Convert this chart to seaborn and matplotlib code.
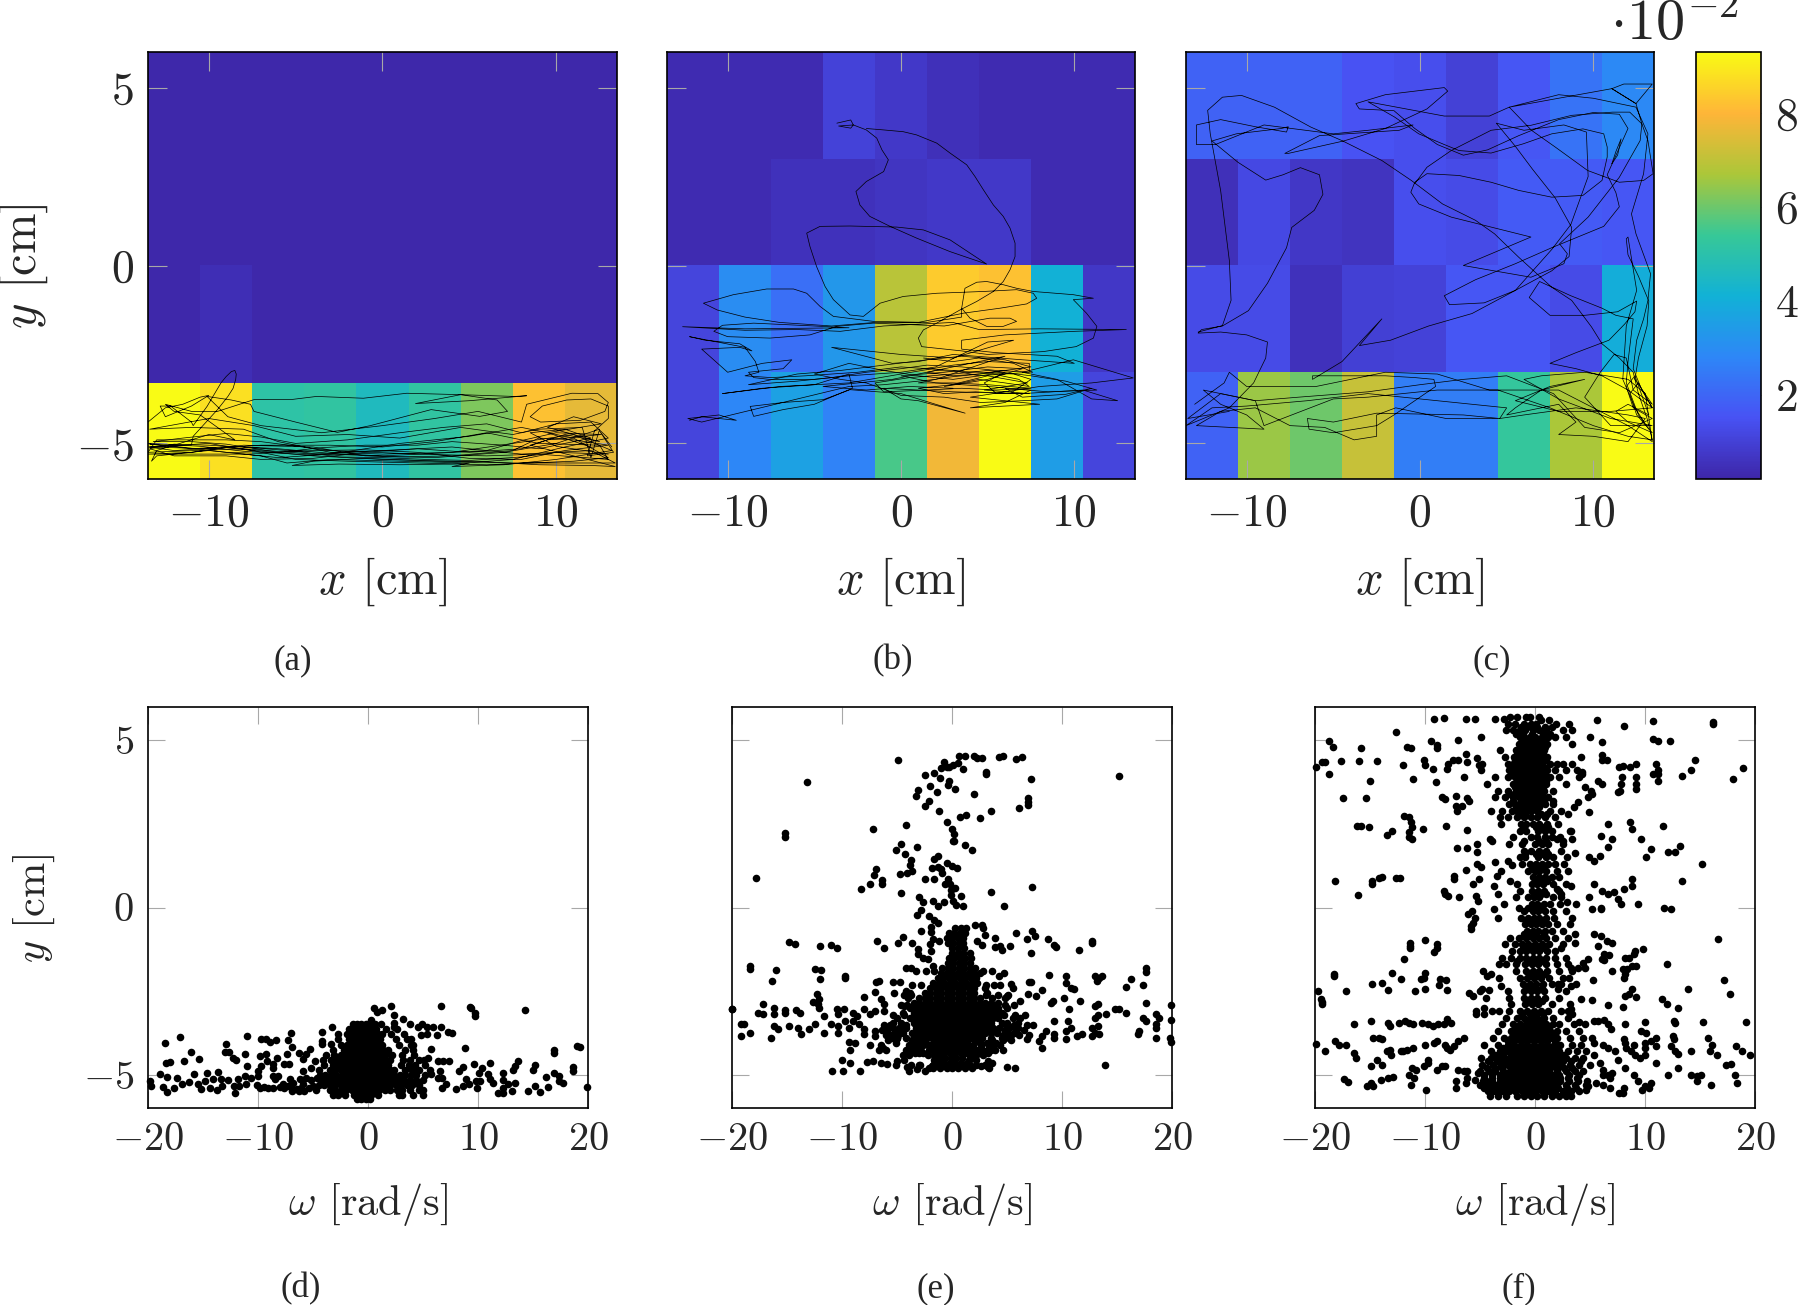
import numpy as np
import pandas as pd
import matplotlib
matplotlib.use("Agg")
import matplotlib.pyplot as plt
from matplotlib.colors import LinearSegmentedColormap
import seaborn as sns

sns.set_style("white")
plt.rcParams["font.family"] = ["cmr10", "DejaVu Sans"]
plt.rcParams["mathtext.fontset"] = "cm"
plt.rcParams["axes.unicode_minus"] = False
plt.rcParams["axes.formatter.use_mathtext"] = True

# colour values x 10^-2, rows from top to bottom
cells_a = [[0.25] * 9,
           [0.25, 0.42, 0.25, 0.25, 0.25, 0.25, 0.25, 0.25, 0.25],
           [9.3, 8.8, 5.1, 5.2, 4.6, 5.2, 6.2, 8.2, 7.6]]
row_repeat_a = [20, 11, 9]  # top bins are 6, 3.3, 2.7 cm high
cells_b = [[0.35, 0.35, 0.35, 1.05, 0.75, 0.5, 0.35, 0.35, 0.35],
           [0.35, 0.35, 0.55, 0.55, 0.65, 0.75, 0.75, 0.35, 0.35],
           [1.1, 3.0, 2.2, 3.3, 6.9, 8.4, 8.2, 4.1, 0.7],
           [1.1, 2.8, 3.6, 2.7, 5.6, 7.8, 9.3, 3.5, 1.1]]
cells_c = [[1.9, 1.9, 1.9, 1.5, 1.4, 1.0, 1.6, 2.3, 2.9],
           [0.5, 1.2, 0.7, 0.6, 1.4, 1.3, 1.7, 1.7, 1.6],
           [1.3, 1.3, 0.55, 0.95, 1.05, 1.6, 1.6, 1.3, 4.0],
           [1.9, 6.5, 6.0, 7.1, 2.6, 2.6, 5.3, 6.7, 9.3]]
cbar_ticks = [2, 4, 6, 8]

xticks_top = [-10, 0, 10]
xticks_bot = [-20, -10, 0, 10, 20]
yticks = [-5, 0, 5]

traj_a = [(-13.5,-4.4),(-12.5,-4.0),(-11.5,-3.9),(-10.5,-3.7),(-10,-3.65),(-11,-3.95),(-12.5,-4.25),(-12.8,-3.95),(-12.2,-3.95),(-11,-4.4),
 (-10.9,-4.5),(-10.1,-3.96),(-9.6,-3.55),(-9.3,-3.3),(-9,-3.12),(-8.7,-2.98),(-8.5,-2.95),(-8.42,-3.05),(-8.45,-3.2),(-8.6,-3.45),(-8.9,-3.68),(-9.5,-4.05),(-10.9,-4.8),
 (-11,-5.05),(-13.5,-5.1),(-12,-5.2),(-9,-5.12),(-7.4,-5.2),(-4,-5.35),(0,-5.45),(4,-5.5),(7.5,-5.55),(13.4,-5.55),
 (12,-5.2),(8,-5.3),(4,-5.1),(0,-5.2),(-4,-5.3),(-8,-5.15),(-13.5,-5.25),(-13,-4.9),(-9,-4.9),(-7,-4.95),(-3,-5.2),(2,-5.3),(6,-5.35),(9,-5.3),
 (13,-5.45),(12.5,-5.05),(9,-5),(6,-4.7),(3,-4.95),(0,-5.1),(-3,-5.05),(-7,-5.05),(-10,-5.15),(-13.4,-5.1),
 (-10,-5),(-7.5,-5.2),(-5,-5.45),(-2,-5.5),(2,-5.55),(6,-5.6),(11,-5.5),(13,-5.4),
 (11,-4.85),(8,-4.55),(5,-4.8),(1,-5.0),(-3,-5.3),(-6,-5.4),(-8,-5.3),(-13.5,-5.3),(-11,-5.25),(-8,-5.05),(-4,-5.1),(-1,-5.35),(3,-5.4),(7,-5.25),
 (10,-5.0),(12.5,-4.6),(12,-5.4),(11.5,-4.55),(9,-4.6),(7.5,-4.75),(4.5,-4.55),(1,-4.85),(-2,-4.75),(-5,-4.8),(-7.4,-4.5),(-10,-4.3),(-13.4,-4.6),
 (-11,-4.55),(-8,-4.6),(-6,-4.95),(-3,-5.25),(0,-5.3),(4,-5.25),(7.5,-5.0),(11,-4.75),(13.2,-5.2),(10,-5.45),(7,-5.6),(4,-5.65),(5,-5.55),(1,-5.5),
 (-3,-5.45),(-5.5,-5.55),(-7,-5.35),(-10,-5.2),(-13,-5.35),(-13.3,-5.5),(-13,-5.2),(-10,-4.75),(-8.5,-4.9),(-10.5,-4.2),(-12,-4.1),(-12.5,-3.9),
 (-11,-4.1),(-9.5,-4.1),(-7.4,-3.77),(-5.3,-3.77),(-3.8,-3.68),(-1.1,-3.73),(1.4,-3.59),(4.5,-3.63),(7.6,-3.68),(8.3,-3.66),(5,-3.8),(1.9,-3.88),
 (4.5,-3.63),(6.6,-3.78),(7.2,-4.1),(5.6,-4.24),(2.8,-4.05),(-0.7,-4.5),(-2.6,-4.69),(-5,-4.4),(-7.4,-4.1),(-7.6,-3.9),(-8.7,-3.78),(-10.1,-3.68),
 (-8.9,-4.25),(-7,-4.5),(-3.5,-4.7),(0,-4.5),(3,-4.3),(5.5,-4.1),(8,-4.4),(8.3,-3.9),(10.9,-3.59),(12.4,-3.6),(13,-3.85),(12.8,-4.1),(11.4,-4.35),
 (9.1,-4.4),(8.5,-4.25),(9.2,-3.95),(10.6,-3.78),(12,-3.75),(13,-3.95),(13,-4.3),(12.2,-4.65),(11.8,-5.35),(13.3,-5.25),(12.5,-4.65),(13.2,-5.1)]
traj_a_bundle = [(-13.5,-5.0),(-10.5,-5.08),(-8,-5.22),(-5,-5.3),(-2,-5.32),(1,-5.38),(4,-5.35),(7.5,-5.2),(9,-4.85),(11,-4.9),(13,-5.05),(10.5,-5.2),(8,-5.45),(5,-5.42),(2,-5.25),(-1,-5.18),(-4,-5.2),(-7,-5.28),(-9,-5.25),(-12,-5.08),
 (-13.4,-5.02),(-11,-5.15),(-8.5,-5.08),(-6,-5.15),(-3,-5.28),(0,-5.35),(3,-5.28),(6,-5.2),(8,-4.92),(10,-4.7),(12.6,-4.75),(9.5,-4.9),(8,-5.15),(5,-5.25),(2,-5.15),(-1,-5.25),(-4,-5.42),(-7,-5.45),(-9,-5.35),(-12,-5.35),
 (-13.4,-5.15),(-12,-5.02),(-10,-5.05),(-7.5,-5.12),(-5,-5.22),(-2.5,-5.38),(0,-5.4),(2.5,-5.45),(5,-5.48),(8,-5.38),(10,-5.25),(13,-5.3),(10,-5.08),(8.5,-4.7),(10.5,-4.6),(12,-4.85),(9,-5.15),(7,-5.05),(4,-4.95),(2,-5.05),
 (-1,-5.05),(-3.5,-5.12),(-6,-5.25),(-9,-5.02),(-11,-4.95),(-13.2,-4.95),(-11.5,-4.85),(-9,-4.72),(-7,-4.82),(-5,-5),(-2,-4.9),(1,-4.7),(3.5,-4.55),(6,-4.45),(8,-4.7),(10,-4.45),(12,-4.4),(13,-4.85),(10.5,-5.1),(7.5,-5.45),
 (4,-5.58),(1,-5.6),(-2.5,-5.58),(-5.2,-5.62),(-4,-5.5),(-1,-5.42),(3,-5.5),(6,-5.52),(9,-5.6),(12,-5.62),(13.4,-5.65),(11,-5.35),(8.5,-5.05),(10.5,-4.75),(12.5,-4.95),(9.5,-4.55),(11,-4.25),(12.6,-4.45),(9.5,-4.7),(12,-5.1)]

traj_b = [(-3.7,4.0),(-2.9,4.09),(-2.75,3.95),(-2.9,3.86),(-3.6,3.92),(-2.75,3.95),(-2.0,3.81),(-1.4,3.58),(-1.1,3.25),(-0.73,2.97),(-1.0,2.64),(-2.0,2.36),
 (-2.6,2.08),(-2.37,1.7),(-1.8,1.38),(-0.63,1.1),(0.9,0.77),(2.83,0.39),(4.94,0.04),(2.83,0.72),(1.29,1.0),(-0.25,1.08),(-2.94,1.11),(-4.67,1.1),(-5.44,0.91),
 (-5.25,0.53),(-4.87,-0.03),(-4.38,-0.59),(-3.9,-0.96),(-2.94,-1.39),(-2.17,-1.43),(-1.21,-1.06),(0.13,-0.87),(2.06,-0.78),(4.75,-0.73),(6.67,-0.68),(7.63,-0.78),
 (7.83,-0.92),(7.25,-1.08),(5.71,-1.2),(3.6,-1.34),(1,-1.6),(-1.5,-1.6),(-4,-1.7),(-7,-1.6),(-9,-1.45),(-10.6,-1.25),(-11.4,-1.06),(-9.67,-0.82),(-7.75,-0.66),(-6.2,-0.66),(-5.44,-0.78),(-4.67,-1.15),(-3.9,-1.43),(-1.6,-1.57),
 (1.5,-1.6),(3.5,-1.45),(3.5,-1.2),(3.69,-0.64),(4.37,-0.47),(4.94,-0.45),(5.9,-0.54),(6.67,-0.64),(7.63,-0.73),(9.94,-0.82),(11.1,-0.92),(9.94,-0.96),(10.7,-1.34),(11.3,-1.71),(11.1,-2.04),(10.1,-2.28),(8.2,-2.42),(5,-2.5),(3.5,-2.4),
 (1.19,-2.28),(1,-2.04),(1.29,-1.81),(2.06,-1.62),(3.4,-1.25),(4.37,-1.01),(5.33,-0.73),(5.9,-0.45),(6.29,-0.12),(6.58,0.25),(6.58,0.63),(6.29,1.05),(5.9,1.38),(5.33,1.7),(4.75,2.13),(4.27,2.5),(3.79,2.83),(2.83,3.16),(2.06,3.44),(0.9,3.67),(0.13,3.76),(-1,3.81),(-2.0,3.85)]
traj_b_lobes = [(3.5,-1.2),(3.98,-1.48),(4.94,-1.71),(5.9,-1.71),(6.67,-1.57),(6.29,-1.48),(5.13,-1.48),(2.5,-1.7),(-1.6,-1.62),(-3.7,-1.71),(-5.25,-1.95),(-7.56,-2.04),(-10,-2),(-10.8,-1.85),(-10.3,-1.68),(-8.5,-1.62),(-5,-1.7),(-3,-1.75),(-9,-1.78),(-12.6,-1.72),(-9,-1.82),(-6,-1.8),(-3.5,-1.85),(-1,-1.7),(1,-1.65),
 (3,-1.6),(4.5,-1.8),(8,-1.78),(13,-1.8),(10,-1.85),(6,-1.95),(3.5,-2.1),(3.5,-2.35),(5.5,-2.45),(9,-2.55),(10,-2.75),(7,-2.65),(3,-2.5),(1,-2.7),(-0.5,-2.75),(-4,-2.3),(0,-2.5),(3,-2.6),(6.5,-2.1),(5,-2.15),(2,-2.85),(0,-3.0),(-3,-3.1),
 (-5,-3.2),(-7.6,-3.2),(-8.5,-3.15),(-8.8,-3.0),(-6.8,-2.9),(-6.3,-2.65),(-8,-2.75),(-10,-3.0),(-11.5,-2.35),(-9.3,-2.3),(-8.6,-2.4),(-9.3,-2.2),(-11.3,-2.1),(-12.2,-2.0),(-9,-2.3),(-8.4,-2.7),(-8.2,-3.0),(-9,-3.1),(-7.5,-3.15),(-5.5,-3.1),(-2.5,-3.0),(0,-2.85),(3,-2.95),(4.5,-3.1),(7.4,-3.0),(7.4,-2.75),(5,-2.7),(3,-2.8),(-3,-3.3),
 (-7,-3.4),(-10.3,-3.6),(-8,-3.45),(-5,-3.35),(-3,-3.05),(-2.8,-3.45),(-5,-3.9),(-6.8,-4.05),(-8.5,-4.24),(-8.7,-3.96),(-6.8,-3.85),(-4.48,-3.77),(-2.94,-3.49),(0,-3.6),(2,-3.9),(3.7,-4.15),(1,-3.8),
 (0,-3.75),(-1,-3.45),(3,-3.55),(7,-3.6),(10.5,-3.5),(12.5,-3.8),(11,-3.75),(9,-3.2),(7,-3.0),(9.94,-2.65),(13.4,-3.16),(11,-3.3),(8,-3.4),(4,-3.7),(8,-3.9),(4,-4.0),
 (6,-3.85),(7.5,-3.5),(5,-3.4),(2,-3.3),(0,-3.1),(2.5,-3.0),(5,-2.85),(7,-2.9),(5,-3.2),(2.5,-3.4),(5,-3.1),(7.3,-3.3),(4.8,-3.5),(7.4,-3.6),(5.5,-3.6),(4.8,-3.3),
 (6,-3.0),(3,-3.1),(1.5,-3.0),(4,-2.75),(6,-2.55),(2,-3.2),(-1,-3.35),(-3,-3.4),(-11.5,-4.4),(-12.3,-4.3),(-10.5,-4.2),(-9.5,-4.35),(-11.5,-4.25),(-12.2,-4.35)]
traj_b_dense = [(1.3,-2.6),(3,-2.7),(4.5,-2.6),(6.5,-2.75),(7.6,-3.0),(5.5,-2.95),(3.5,-2.85),(1.5,-2.8),(0,-2.9),(-2,-3.0),(-4,-3.15),(-6,-3.25),(-8.8,-3.35),(-6,-3.05),(-3.5,-2.95),(-1,-2.8),(1.5,-2.65),(3.5,-2.55),(6,-2.65),(7.5,-2.85),(4.5,-3.05),(2.5,-3.15),(1,-3.3),(3,-3.3),(5,-3.35),(7.5,-3.45),(5.5,-3.5),(3.5,-3.45),(1.5,-3.5),(-1,-3.55),(-1.5,-3.3),(0.5,-3.15),(3,-3.05),(5,-2.95),(7.5,-3.1),(9.5,-3.25),(11.3,-3.5),
 (8.5,-3.55),(6,-3.45),(7,-3.7),(9.5,-3.62),(11,-3.45),(9,-3.75),(7,-3.8),(4.6,-3.85),(2.5,-3.7),(0,-3.65),(-2,-3.3),(-3.5,-3.2),(-5,-3.05),(-3,-2.75),(-1,-2.95),(1,-3.1),(3,-3.2),(5.3,-3.05),(6.8,-3.2),(7.4,-3.4),(6,-3.3),(4.5,-3.2),(3,-3.35),(1,-3.45),(2.5,-3.6),(4.3,-3.55),(6.3,-3.6),(7.5,-3.2),(6.5,-3.05),(4.5,-3.0),(2,-2.95),(-0.5,-3.2),(-4.5,-3.4),(-2,-3.5),(0.5,-3.4),(3,-3.45)]

traj_c = [(-12.8,-1.87),(-11.4,-1.69),(-10.9,-0.98),(-11,0.14),(-11.5,2.1),(-12.1,3.7),(-12.25,4.36),(-11.4,4.73),(-10.3,4.78),(-8.4,4.45),(-6.3,3.89),(-4.5,3.51),
 (-2.2,2.95),(-0.5,2.39),(1.3,1.73),(3.2,1.27),(4.3,0.89),(5.7,0.23),(7.6,-0.61),(8.75,-0.98),(9.9,-1.73),(10.5,-2.2),(11.5,-2.6),(12.3,-3.0),(12.6,-3.6),(13.1,-4.3),
 (13.4,-4.9),(12,-4.8),(10,-4.5),(7.5,-4.0),(4.5,-3.5),(1,-3.5),(-3,-3.7),(-5,-3.75),(-9,-4.5),(-9.5,-3.8),(-12.5,-3.5),(-11.5,-3.9),(-10,-4.2),(-9,-4.6),
 (-12.9,-4.5),(-11.5,-4.1),(-9.5,-4),(-7.5,-4.5),(-5.5,-4.55),(-3.8,-4.9),(-2.5,-4.8),(-2.5,-4.2),(-1.4,-4.0),(1.5,-4.3),(4.6,-4.3),(2.5,-4.2),(-2.5,-4.15),
 (-5,-4.4),(-6.5,-4.3),(-6.4,-4.6),(-5,-4.7),(-2.5,-4.5),(-1.5,-4.2),(0.9,-3.4),(0.8,-3.2),(-0.3,-3.15),(-2,-3.1),(-6.2,-3.1),(-6.2,-3.2),(-4.5,-2.7),(-2.2,-1.5),
 (-3.5,-2.25),(-1.7,-2.1),(0.5,-1.7),(3,-1.35),(5.5,-0.7),(7.6,0.45),(8.7,1.15),(9.7,2.5),(9.6,3.75),(8.3,3.95),(6,3.8),(4.4,4.0),(5.5,3.35),(6.5,2.7),(7.8,1.9),
 (8.75,1.07),(8.6,0.25),(7.6,-0.15),(5.5,-0.7),(3.7,-1.05),(1.7,-1.1),(1.4,-0.85),(3.2,-0.4),(5.5,0.05),(7.6,0.5),(8.6,0.7),(10.6,1.1),(11.5,1.65),(11.3,2.05),
 (10.8,2.55),(12,3.85),(11.5,4.25),(10,4.3),(8,4.1),(5.7,3.65),(3.9,3.25),(2.5,3.1),(1,3.4),(-0.3,3.85),(-1.5,4.35),(-3.5,4.4),(-3.7,4.55),(-2,4.8),(1.4,5.0),
 (1.6,4.9),(0.4,4.4),(-2,3.85),(-4.4,3.5),(-7.6,3.15),(-7.8,3.15),(-5.8,3.65),(-1.2,3.8),(-0.4,3.95),(-3,3.8),(-5,3.7),(-9,3.95),(-11.8,3.4),(-12.9,3.4),
 (-12.9,3.95),(-11.5,4.1),(-9.5,3.9),(-7.7,3.75),(-7.6,3.9),(-8,3.85),(-10.6,3.7),(-12,3.5),(-10.5,2.9),(-8.9,2.4),(-7.9,2.55),(-6.9,2.75),(-5.8,2.55),(-5.6,2),
 (-6.1,1.55),(-7.4,1.07),(-7.7,0.5),(-8.8,-0.5),(-9.9,-1.27),(-11.4,-1.7),(-12.6,-1.8),(-12.8,-1.9),(-11.5,-1.87),(-10,-1.95),(-8.8,-2.15),(-8.9,-2.6),(-9.6,-3.3),
 (-11,-4.0),(-13.5,-4.5),(-12,-4.0),(-10,-3.95),(-6.5,-3.8),(-3,-3.6),(1,-3.8),(5,-4.0),(4.6,-4.3),(6,-4.2),(9,-4.0),(12,-4.2),(13,-4.3),(12,-4.95),(10,-4.8),
 (8,-4.75),(9,-4.4),(8,-3.9),(5,-4.2),(5.5,-4),(7,-3.5),(9.5,-3.2),(7.5,-3.4),(5.5,-3.8),(8,-4.1),(11,-4.1),(13.4,-4),(12,-3.5),(10.5,-3.1),(9,-2.9),
 (7.5,-2.75),(9,-2.45),(10.9,-2.1),(11.8,-1.65),(12.4,-1.3),(12.5,-1),(11.4,-1.3),(9.5,-1.4),(7.5,-1.4),(6.3,-0.9),(6.9,-0.45),(8.7,-0.85),(10.5,-1.2),(11.3,-1.4),
 (12.3,-1.5),(12,-2.7),(11.9,-3.3),(12.6,-4.2),(13.2,-4.6),(12.4,-4),(11.7,-3.2),(11.9,-1.7),(12.5,-0.7),(12,0.8),(11.9,0.75),(12,0.3),(12.6,-0.3),(13.2,-1),
 (13.1,-1.7),(12.6,-2.6),(12.4,-3.2),(13.4,-3.9),(12.3,-3.5),(11.9,-2.6),(11.2,-2.5),(10.4,-3.0),(9.5,-3.7),(11,-4.5),(13.4,-4.5),(11,-4.3),(8,-3.75),(6,-3.2),
 (7,-3.1),(9.5,-3.0),(12,-3.2),(13,-3.6),(13.4,-4.95),(12,-4.5),(8,-3.5),(4,-3.5),(1,-3.05),(-2,-3),(-6,-3.4),(-10,-3.4),(-11,-3),(-11.3,-3.3),(-13,-3.9)]
traj_c_loops = [(-0.3,2.3),(0.4,2.76),(1.8,3.23),(4.1,3.8),(6.4,3.94),(8.75,4.22),(11.1,4.31),(12.1,4.31),(12.8,3.98),(12.7,3.51),(11.5,2.48),(9.7,1.36),(8.05,0.61),(8.5,0.33),(8.3,0.05),(6.4,-0.33),(2.5,0),
 (6.4,0.8),(4.1,1.08),(1.8,1.36),(-0.07,1.73),(-0.53,2.06),(-0.3,2.34),(0.4,2.58),(2.25,2.53),(4.1,2.34),(5.7,2.11),(7.6,1.92),(9.4,1.97),(10.5,2.39),(10.8,3.05),(10.8,3.33),(10.6,3.7),(9.4,3.84),(7.6,3.7),(5.96,3.42),(4.1,3.16),(2.25,3.23),(1.3,3.42),(-0.07,3.7),(-1.46,4.17),(-3,4.6),
 (1.4,4.2),(4,4.2),(5.15,4.45),(6.43,3.8),(7.8,3.33),(9.67,2.67),(11.5,2.34),(12.9,2.39),(13.45,2.58),(13.15,3.51),(12.8,3.98),(12.46,4.55),(11.07,4.97),(11.76,5.1),(13.4,5.1),(12.46,4.55),(11.07,4.97),(5.15,4.45),(8,4.8),(10,4.7),(12.46,4.45),(13.15,3.7),(12.9,2.58),(12.2,1.45),(12.46,0.89),(13.3,-0.23),(13.15,-0.98),(12.9,-1.5),(12.5,-2.1),(12.3,-2.9),
 (12.8,-3.5),(13.4,-4.0),(12.6,-3.3),(12.1,-3.6),(12.5,-4.2),(13.4,-4.7),(12,-4.4),(11.3,-4.1),(12,-3.9),(13.2,-4.2),(12.4,-3.1),(11.9,-3.4),(12.3,-4),(13.4,-4.3),(11.5,-4.7),(9.5,-4.55),(7.7,-3.6),(5,-3.1),(2.5,-3.2),(0,-3.35),(-3,-3.55),(-7,-3.7),(-9.5,-3.8),(-11.5,-3.6),(-13.4,-4.3),(-11,-4.1)]
traj_c_small = [(11.07,2.86),(11.3,3.2),(11.6,3.56),(11.4,3.1),(11.07,2.86)]

# sparse points of the three scatter panels (omega, y)
d_points = [(-17.1,-3.89),(-18.5,-4.06),(-16.1,-4.32),(-15.4,-4.54),(-16.7,-4.59),(-18,-4.61),(-18.4,-4.66),(-18.9,-4.99),(-18.3,-5.07),(-19.85,-5.19),(-19.7,-5.34),(-18.6,-5.36),(-18.3,-5.52),
 (-17.6,-5.39),(-17.4,-5.11),(-16.9,-5.29),(-16.3,-5.21),(-15.8,-4.97),(-15.5,-5.29),(-15.2,-5.42),(-14.8,-5.19),(-14.6,-4.94),(-14.4,-5.39),(-14.1,-5.12),(-13.6,-4.92),(-13.4,-5.12),(-13.7,-5.47),(-13.3,-5.34),
 (-12.9,-4.07),(-13,-4.32),(-12.6,-4.32),(-12.3,-4.51),(-12,-4.56),(-11,-3.84),(-11.2,-4.37),(-11,-4.74),(-12.7,-5.16),(-11.8,-5.14),(-12.2,-5.34),(-11.7,-5.34),(-12.1,-5.56),(-11.2,-5.04),(-11.1,-5.27),(-10.6,-5.09),
 (-10,-4.89),(-10,-5.04),(-9.7,-4.74),(-10.1,-5.31),(-9.8,-5.41),(-9.5,-5.37),(-9.1,-5.41),(-9.7,-3.94),(-9.3,-3.94),(-8.9,-4.01),(-8.4,-3.97),(-9.8,-4.44),(-9.3,-4.37),(-9.2,-4.59),(-8.6,-4.69),(-8.6,-4.79),(-8.3,-4.49),
 (-7.4,-4.39),(-7.6,-4.67),(-7.2,-4.67),(-7.3,-3.96),(-7,-3.77),(-6.9,-4.17),(-6.3,-4.34),(-5.9,-4.54),(-5.6,-4.39),(-5.3,-4.24),(-4.2,-3.74),(-4.2,-3.99),(-4.2,-4.09),(-3.3,-3.59),(-3.4,-4.09),(-2.7,-3.79),(-2.7,-3.94),
 (-8.6,-5.04),(-8.2,-5.04),(-8.5,-5.14),(-8.6,-5.39),(-7.7,-5.29),(-7.1,-5.14),(-7.3,-5.34),(-6.2,-5.14),(-6.5,-5.44),(-5.9,-4.89),(-5.6,-5.09),(-6.9,-5.5),(-5.2,-4.8),(-5.4,-5.4),(-4.8,-4.6),(-4.5,-4.85),
 (-8,-5.38),(-7.6,-5.4),(-7,-5.35),(-6.8,-5.25),(-6.1,-5.4),(-5.9,-5.28),(-5.2,-5.15),(-5,-5.35),(-4.6,-5.1),(-4.7,-5.45),(-6.3,-5.5),(-5.8,-5.5),
 (0.5,-3.01),(0.85,-3.14),(1.3,-3.07),(2.1,-2.96),(2.35,-3.22),(3.15,-3.34),(0.3,-3.36),(2.35,-3.46),(2.4,-3.59),(3.8,-3.49),(4.5,-3.59),(6.6,-2.96),(9.25,-2.99),(9.4,-3.02),(9.75,-3.16),(9.75,-3.26),(14.3,-3.07),
 (5.9,-3.59),(6.3,-3.82),(6.6,-3.59),(4.9,-3.5),(5.4,-3.59),(4.8,-3.82),(5.4,-3.79),(7.3,-3.74),(7.6,-3.76),(8.8,-4.19),(5.7,-4.24),(19,-4.14),(19.25,-4.16),(16.95,-4.27),(16.95,-4.36),(13.6,-4.59),(13.35,-4.74),(13.2,-4.86),
 (11.1,-4.64),(9.6,-4.67),(8.6,-4.76),(8.3,-4.89),(10.4,-4.79),(10.1,-4.94),(10.9,-4.99),(11.1,-5.14),(11.4,-5.24),(12.3,-4.94),(15.15,-4.71),(15,-4.86),(18.6,-4.77),(18.6,-4.89),(16.2,-5.07),(16.95,-4.94),(17.4,-5.04),(17.4,-5.19),
 (17.7,-5.24),(16.4,-5.37),(15.6,-5.51),(15.2,-5.34),(14.5,-5.49),(13.4,-5.24),(12.3,-5.17),(12.7,-5.29),(12.3,-5.39),(11.8,-5.54),(12.3,-5.56),(13.1,-5.49),(19.9,-5.36),(9.85,-5.19),(10.15,-5.19),(9.9,-5.39),(8.9,-5.14),(9.2,-5.29),
 (8.6,-5.34),(8,-5.44),(7.1,-5.29),(6.7,-5.39),(6.4,-5.09),(6.7,-5.11),(6.5,-4.89),(5.75,-4.99),(7.35,-4.59),(6.4,-4.59),(6.85,-4.59),(5.45,-4.49)]
d_core_y = [-3.5,-3.65,-3.8,-3.95,-4.1,-4.25,-4.4,-4.55,-4.7,-4.85,-5,-5.15,-5.3,-5.45,-5.6,-5.72]
d_core_x = [[-1.4,-1,-0.6,-0.2,0.2,0.6,1.2],
 [-1.7,-1.3,-0.9,-0.5,-0.1,0.3,0.7,1.6,2.6],
 [-1.9,-1.5,-1.1,-0.7,-0.3,0.1,0.5,0.9,1.3,2.1,3.3],
 [-1.7,-1.3,-0.9,-0.5,-0.1,0.3,0.7,1.1,2.5,3.5,3.9],
 [-2.5,-1.9,-1.5,-1.1,-0.7,-0.3,0.1,0.5,0.9,1.3,2.8,3.9,4.1],
 [-3.2,-2.2,-1.8,-1.4,-1,-0.6,-0.2,0.2,0.6,1,1.4,1.8,3.4,4.1],
 [-3.8,-3.1,-2.5,-2.1,-1.7,-1.3,-0.9,-0.5,-0.1,0.3,0.7,1.1,1.5,2.2,3.1,4.2],
 [-4.1,-3.4,-2.8,-2.4,-2,-1.6,-1.2,-0.8,-0.4,0,0.4,0.8,1.2,1.6,2,3.2,3.8,4.6,5.1],
 [-4,-3.2,-2.6,-2.2,-1.8,-1.4,-1,-0.6,-0.2,0.2,0.6,1,1.4,1.8,3,3.7,4.3,5.2],
 [-3.5,-3,-2.5,-2,-1.6,-1.2,-0.8,-0.4,0,0.4,0.8,1.2,1.6,2,2.4,3.4,4,4.6,5.6],
 [-4.4,-3.9,-3.4,-2.9,-2.4,-2,-1.6,-1.2,-0.8,-0.4,0,0.4,0.8,1.2,1.6,2,2.4,2.9,3.4,3.9,4.4,5.2],
 [-4.2,-3.7,-3.2,-2.7,-2.2,-1.8,-1.4,-1,-0.6,-0.2,0.2,0.6,1,1.4,1.8,2.2,2.7,3.2,3.8,4.4,5],
 [-4.5,-4,-3.5,-3,-2.5,-2,-1.6,-1.2,-0.8,-0.4,0,0.4,0.8,1.2,1.6,2,2.5,3,3.5,4,4.6],
 [-3.5,-3,-2.5,-2,-1.5,-1,-0.6,-0.2,0.2,0.6,1,1.5,2,2.6,3.1,3.8,4.6,5],
 [-3.2,-2.7,-2.1,-1.3,-0.9,-0.5,-0.1,0.3,0.9,2.8,3.1,4.1,5],
 [-1,-0.6,-0.2,0.2]]

e_points = [(-4.9,4.4),(-13.2,3.75),(-15.2,2.24),(-15.2,2.11),(-17.8,0.88),(15.2,3.93),(0.64,4.53),(1.2,4.54),(2,4.53),(2.3,4.46),(2.75,4.46),(4.3,4.49),(4.6,4.53),(5.8,4.44),(6.4,4.51),
 (-0.7,4.36),(-1,4.16),(-0.3,4.21),(0.5,4.31),(0.1,4.25),(-0.5,4.2),(1,4.13),(3.1,4.06),(3.1,3.99),(-2.5,3.96),(-1.6,4.03),(-1.1,3.88),(-0.3,3.79),(-0.4,3.66),(0.3,3.56),(-2,3.64),(-3.1,3.53),(-1.4,3.45),(-3.3,3.33),(-2.1,3.19),(-2.5,3.04),
 (2,3.41),(7.2,3.85),(6.9,3.29),(6.9,3.15),(6.9,3.06),(6.1,2.98),(3.5,2.88),(2.5,2.67),(1.3,2.77),(0.7,2.72),(-1.2,2.88),(-0.5,2.55),(0,2.36),(0.2,2.2),(0.1,2),(0.2,2.0),(-7.15,2.36),(-4.15,2.46),(1.2,1.87),(1.8,1.71),(-3.15,1.81),(-4.6,1.89),(-5.05,1.71),(-4.3,1.61),
 (-3.75,1.41),(-3.85,1.28),(-3.6,1.09),(-4.05,1.03),(-4.75,0.99),(-6.9,1.14),(-7.1,0.96),(-6.4,0.81),(-6.4,0.71),(-7.5,0.69),(-8.3,0.56),(-4.65,0.43),(-2.5,0.84),(-1.65,0.84),(-1.3,1.54),(-1.6,1.44),(-1.8,1.18),(-1.3,1.21),(-1,1.16),(-0.5,1.33),(0,1.23),(0.45,1.19),(-0.9,1.03),(-0.35,0.85),(-0.6,0.71),(-0.2,0.71),
 (0.3,0.58),(-0.1,0.51),(-0.05,0.36),(0.85,0.33),(0.05,0.19),(0.4,0.06),(1,0.03),(-0.7,0.16),(-1.7,0.18),(-1.3,0.05),(-3,0.3),(-2.6,0.16),(4.75,0.05),(3.5,0.46),(7.3,0.6),(-2.85,-0.07),(-3.2,-0.21),(-2.1,-0.25),(-1.65,-0.36),(-1.25,-0.46),(-2.85,-0.69),(-1.9,-0.59),(-1.9,-0.74),(-1.7,-0.94),
 (-2,-1.09),(-1.9,-1.3),(-3.1,-1.25),(-3.1,-1.4),(-2.6,-1.5),(-2.2,-1.55),(-1.7,-1.75),(-1.2,-0.99),(2.1,-0.52),(2.7,-0.52),(2.85,-0.62),(3,-0.82),(5.8,-0.77),(7.3,-0.69),(7.5,-0.84),(6.8,-0.94),(8.7,-0.94),(9.3,-1.12),(9.45,-1.17),(12.7,-1),(12.7,-1.06),(11.5,-1.27),
 (7.2,-1.37),(5.3,-1.16),(4.4,-1.16),(3.9,-1.19),(4.5,-1.27),(3.95,-0.9),(2.3,-1.0),(2.7,-1.12),(-4.95,-1.05),(-4.5,-0.88),(-3.6,-1.05),(-6.8,-1),(-6.2,-1.2),(-11,-1.12),(-10.45,-1.2),(-12,-1.15),(-14.8,-1.02),(-14.3,-1.08),
 (-18.4,-1.75),(-18.4,-1.85),(-16,-1.88),(-12.5,-1.84),(-11.9,-1.88),(-12,-2.14),(-9.7,-2.04),(-9.7,-2.1),(-16.4,-2.21),(-6.9,-2.22),(-6.6,-2.2),(-5.4,-2.22),(-4.7,-2.22),(-4.2,-1.8),(-3.7,-1.82),(-4.2,-2.5),(-4,-2.7),(-3.8,-2.55),
 (4.7,-1.95),(4.3,-2.04),(5.4,-2.3),(5.5,-2.4),(7,-2.24),(7.2,-2.24),(8.85,-2.03),(10.4,-2.05),(10.4,-2.27),(10.85,-2.4),(11.1,-2.45),(13,-2.05),(13.4,-2.12),(13.6,-2.05),(13.2,-2.2),(17.6,-1.8),(17.6,-1.92),(16.3,-2.13),(15.8,-2.37),(17.4,-2.32),
 (8.2,-2.48),(7.6,-2.65),(6.9,-2.6),(6.2,-2.8),(5,-2.65),(-12.3,-2.58),(-12.1,-2.74),(-12.6,-2.83),(-12.2,-2.88),(-7,-2.53),(-8,-2.69),(-6.5,-2.74),(-6.2,-2.9),(-5.3,-2.56),(-4.4,-2.95),(9,-2.85),(9.2,-2.79),(10.2,-2.71),(10.6,-3.03),(11.6,-2.81),(13,-2.95),(13.3,-2.88),
 (17.6,-2.87),(14.8,-3.03),(15.2,-3.05),(15.8,-3.15),(-20,-3.04),(-17.2,-2.9),(-16.2,-3.0),(-15.2,-3.07),(-14.2,-3.07),(-16.2,-3.2),(-17.6,-3.15),(-17.2,-3.2),(-15.2,-3.17),(-13.8,-3.15),(-12.1,-3.0),(-11.6,-3.25),(-10.5,-3.04),(-9.8,-3.04),(-9,-3.15),
 (-10.4,-3.2),(-8.6,-3.25),(-8,-3.05),(-7.5,-3.2),(-7,-3.1),(-6.2,-3.1),(-20,-3.04),(19.9,-2.92),(19.9,-3.38),(19.8,-3.92),(19.9,-4.03),(18.5,-3.19),(18.8,-3.32),(18.5,-3.5),(18.5,-3.6),(18.5,-3.92),(17.4,-3.3),(17.6,-3.4),(17,-3.7),(16.9,-3.8),
 (14,-3.2),(13.3,-3.22),(13,-3.3),(12.7,-3.6),(13.3,-3.55),(13,-3.75),(13.4,-3.8),(12.7,-3.85),(11.8,-3.8),(11.4,-3.85),(10.85,-3.6),(10.5,-3.4),(10.4,-3.7),(10.4,-3.95),(9.3,-3.4),(9.3,-3.8),(9.3,-3.9),(8.5,-3.7),(8.2,-3.85),(7.9,-4),(8.2,-4.2),(6.8,-3.95),
 (-19.2,-3.5),(-18.9,-3.5),(-19.2,-3.85),(-18.4,-3.75),(-16.5,-3.9),(-16.2,-3.55),(-15.8,-3.65),(-14.8,-3.55),(-14,-3.6),(-13.7,-3.8),(-13,-3.65),(-12.5,-3.5),(-11.6,-3.75),(-11,-3.5),(-10.4,-3.55),(-10.4,-3.75),(-9.7,-3.4),(-9.4,-3.6),(-9,-3.4),(-8.5,-3.5),
 (-8,-3.65),(-8,-3.8),(-7,-3.7),(-7,-3.85),(-6.5,-4.1),(-6.3,-4.2),(-5.5,-3.9),(-5.1,-4.05),(-5,-3.9),(-9.3,-4.25),(-9.4,-4.02),(-8.8,-4.05),(-7.5,-4.1),(-6.6,-4.25),(-6,-4.27),(-10,-4.55),(-9.3,-4.65),(-7.7,-4.61),(-7.2,-4.6),(-6.5,-4.65),(-5.9,-4.68),
 (-5.1,-4.72),(-5,-4.6),(-4.4,-4.55),(-4.1,-4.76),(-3.9,-4.88),(-3.2,-4.82),(-2.9,-4.7),(-2.5,-4.9),(-2.1,-4.8),(-10.9,-4.88),(-9.9,-4.9),(-8.4,-4.9),(-1.8,-4.75),(-2.8,-4.3),(-2.2,-4.1),(5,-4.76),(5.7,-4.8),(13.9,-4.72),(3.3,-4.78),(3.3,-4.6),(3.5,-4.25),(3,-4.3),(2.6,-4.75)]
e_core_y = [-0.6,-0.75,-0.9,-1.05,-1.2,-1.35,-1.5,-1.65,-1.8,-1.95,-2.1,-2.25,-2.4,-2.55,-2.7,-2.85,-3,-3.15,-3.3,-3.45,-3.6,-3.75,-3.9,-4.05,-4.2,-4.35,-4.5,-4.65,-4.8]
e_core_x = [[0.3,0.8,1.3],[-0.3,0.2,0.7,1.2],[-0.5,0,0.5,1],[-0.4,0.1,0.6,1],[0,0.5,1.1],[0,0.5,1,1.6],[-0.3,0.2,0.7,1.2,1.7],[-0.4,0.1,0.6,1.1,1.6],
 [-0.9,-0.4,0.1,0.6,1.1,1.6,2.1],[-1,-0.5,0,0.5,1,1.5,2,2.5],[-1.3,-0.8,-0.3,0.2,0.7,1.2,1.7,2.2],[-1.7,-1.2,-0.7,-0.2,0.3,0.8,1.3,1.8,2.3],[-2,-1.5,-1,-0.5,0,0.5,1,1.5,2,3],
 [-2.5,-2,-1.5,-1,-0.5,0,0.5,1,1.5,2,3.2],[-3,-2.5,-2,-1.5,-1,-0.5,0,0.5,1,1.5,2,2.5,3.6,4.8],[-3.5,-3,-2.5,-2,-1.5,-1,-0.5,0,0.5,1,1.5,2,2.5,3,3.5,4.2],
 [-3.8,-3.3,-2.8,-2.3,-1.8,-1.3,-0.8,-0.3,0.2,0.7,1.2,1.7,2.2,2.7,3.2,3.7,4.2,5],[-4.5,-3.5,-3,-2.5,-2,-1.5,-1,-0.5,0,0.5,1,1.5,2,2.5,3,3.5,4,4.5],
 [-5,-3.8,-3.3,-2.8,-2.3,-1.8,-1.3,-0.8,-0.3,0.2,0.7,1.2,1.7,2.2,2.7,3.2,3.7,4.2,5.5,6.2],[-5.4,-4.6,-3.5,-3,-2.5,-2,-1.5,-1,-0.5,0,0.5,1,1.5,2,2.5,3,3.5,4.5,5,6],
 [-5.4,-4.8,-4.2,-3.3,-2.8,-2.3,-1.8,-1.3,-0.8,-0.3,0.2,0.7,1.2,1.7,2.2,2.7,3.2,3.7,4.3,5.2,6],[-5.2,-4.5,-3.6,-3,-2.5,-2,-1.5,-1,-0.5,0,0.5,1,1.5,2,2.5,3,3.5,4.1,5,5.6],
 [-5,-4.2,-3.4,-2.8,-2.3,-1.8,-1.3,-0.8,-0.3,0.2,0.7,1.2,1.7,2.2,2.7,3.5,4.5,5.2],[-2.5,-1.6,-1.1,-0.6,-0.1,0.4,0.9,1.4,2.5,3.2,4],[-3.2,-1.4,-0.9,-0.4,0.1,0.6,1.1,1.6,2.6,3.4],[-3.4,-3,-2.6,-1.2,-0.7,-0.2,0.3,0.8,1.3,2.5,3.3],
 [-1.1,-0.6,-0.1,0.4,0.9,1.6],[-1.3,-0.7,-0.2,0.3,0.8,1.4,3.4,3.6],[-1.7,-1.1,-0.5,0,0.5,1.2,1.8,3.4],[-3.1,-2,-1.9,-0.5,0,0.4,1,1.8,2.6,3.4,4.7,5.7]]
e_fill_y = [-1.9,-2.32,-2.62,-2.92,-3.22,-3.52,-3.68,-3.82,-3.97,-4.12,-4.27,-4.42,-4.57,-4.72]
e_fill_x = [[-3.3,-2.4,-1.6,2.8,3.6],[-3.6,-2.8,3.1,3.8,4.4],[-4.4,-3.7,3.1,4.2,5.1],[-4.6,-4.1,3.9,4.8,5.6],[-5.4,-4.4,4.7,5.7,6.6],[-6.2,-5.6,-4.2,4.9,5.6,6.8,7.4],[-6.4,-5.9,-4.9,4.8,5.8,6.5],[-6,-5.6,-4.9,4.6,5.4,6.1,7],
 [-5.8,-5.1,-3.6,-2.9,2.2,3.6,4.6,5.4],[-3.9,-3.3,-2.6,-2,1.9,2.6,3.6,4.4],[-4.2,-3.6,-2.1,-1.7,1.8,2.3,3.9,4.6],[-4.5,-3.9,-2.2,-1.6,1.6,2.2,2.8],[-1.6,1.5,2.2],[-3.7,-3,-1.7,1.6,2.2,3]]

f_points = [(-9.2,5.63),(-8.3,5.68),(-6.3,5.63),(-5.5,5.65),(-3.6,5.65),(-2.8,5.63),(0.5,5.61),(1.3,5.6),(5.6,5.6),(8.1,5.43),(10.7,5.57),(16.2,5.5),(16.2,5.55),(-12.6,5.25),(-18.7,4.98),(-18.4,4.8),(-15.8,4.78),
 (-11.6,4.8),(-11.3,4.77),(-9.5,4.97),(-8.9,4.85),(-8.9,4.78),(-7,5.02),(-6.3,4.6),(-6.2,4.35),(-19.1,4.36),(-19.9,4.2),(-19.4,4.36),(-17.6,4.37),(-16,4.37),(-14.4,4.37),(-12,4.25),(-10.1,4.4),(-10,4.25),(-9.3,4.15),(-7.9,4.3),(-7.5,4.4),(-8,4.15),(-7,4.4),
 (-5.3,4.47),(-5.1,4.25),(-18.7,4),(-15,3.8),(-11.1,3.85),(-9,3.75),(-6.5,3.9),(-17.5,3.27),(-15.4,3.27),(-8.5,3.32),(-8.2,3.24),(-7.2,3.33),(-6.2,3.28),(-6,3.2),(-7.2,3.05),(-6.6,3.05),(-7.1,2.9),(-11.9,2.75),(-11.5,2.7),(-11.3,2.55),(-11.2,2.4),
 (-16.2,2.45),(-15.8,2.45),(-15.1,2.42),(-13.5,2.17),(-13,2.28),(-11.5,2.25),(-11.2,2.05),(-11.5,2.1),(-10.2,2.35),(-8.1,2.43),(-6.2,2.33),(-4.1,2.05),(-3.9,2),(-7.1,1.78),(-6.2,1.78),(-5.3,1.9),(-5.3,1.65),(-5.3,1.3),(-4.9,1.2),(-6.3,1.13),(-3.6,1.35),(-2.5,1.4),
 (-2.1,1.27),(-7.4,0.95),(-7.4,0.85),(-18.2,0.8),(-14.8,0.7),(-14.8,0.8),(-14.2,0.88),(-13.9,0.9),(-12.6,0.88),(-12.3,0.88),(-16.1,0.38),(-8.3,0.5),(-8.2,0.4),(-7.9,0.35),(-6.9,0.32),(-5.6,0.7),(-5.1,0.85),(-5.4,0.35),(-5.2,0.2),(-3.7,0.65),(-3.5,0.95),(-3.4,0.4),
 (-2.3,0.8),(-3.1,1.1),(-2.8,0.1),(-6.1,-0.2),(-5.7,-0.1),(-5.5,-0.3),(-5.6,-0.45),(-5.8,-0.65),(-5.8,-0.55),(-1.5,0),(-3.7,-0.05),(-3.4,-0.3),
 (-19.1,-4.3),(-17.8,-4.1),(-17.2,-4.1),(-16.5,-4.35),(-16.3,-4.5),(-14.9,-3.4),(-14.7,-3.9),(-13.9,-3.95),(-13.4,-3.45),(-13.2,-3.55),(-12.4,-3.45),(-11.8,-3.4),(-11.5,-3.45),(-11.1,-3.5),(-10.3,-3.45),(-9.7,-3.5),(-9.3,-3.55),(-8.8,-3.5),(-8.3,-3.5),(-8,-3.35),(-7.6,-3.45),
 (-11.4,-1.05),(-11.4,-1.15),(-11.4,-1.2),(-10,-0.97),(-8.9,-1.1),(-8.9,-1.2),(-9.2,-1.33),(-11.9,-1.54),(-13,-1.95),(-18.3,-2),(-18.3,-2.05),(-12.2,-2.15),(-13.9,-2.25),(-14.8,-2.3),(-13.4,-2.47),(-10,-1.95),(-10.1,-2.1),(-10.4,-2.13),(-8.6,-2.15),(-8.1,-2.18),(-8.7,-2.33),(-8,-2.48),
 (-10,-2.45),(-10.9,-2.5),(-19.7,-2.5),(-19.5,-2.73),(-19.4,-2.82),(-19.4,-2.88),(-17.2,-2.5),(-6,-2.55),(-5.6,-2.65),(-4.8,-2.45),(-4.2,-2.48),(-3.1,-2.35),(-3.3,-2.1),(-4.4,-2.05),(-4,-2),(-4.7,-1.9),(-5,-2.5),(-4.5,-2.7),
 (-5.4,-3.1),(-5.4,-3.2),(-4.6,-3),(-4.6,-3.2),(-3.9,-3.1),(-3.3,-3.1),(-19.9,-4.08),(-18.2,-4),(-16.5,-3.5),(-14.2,-3.9),(-13.2,-4.25),(-12.2,-4.3),(-12,-4.3),(-11.6,-4.25),(-11.1,-4.2),(-10,-4.1),(-9.2,-4.05),(-8.9,-4),(-8.2,-4.1),(-8,-4.2),(-7.7,-4.25),(-7.4,-4.15),(-7,-4),(-6.5,-3.9),
 (-14.9,-4.75),(-14.4,-4.55),(-13.9,-4.7),(-13.5,-4.3),(-13.1,-4.4),(-11.2,-4.8),(-10.8,-4.85),(-10.1,-4.75),(-9.7,-4.65),(-9.7,-4.55),(-8.9,-4.85),(-8.5,-4.75),(-8.2,-4.75),(-7,-4.85),(-6.5,-4.9),(-6.2,-4.9),(-5.2,-4.95),
 (-17.4,-5.13),(-17,-5.23),(-15.3,-5.35),(-14.9,-5.24),(-14.7,-5.35),(-14,-5.15),(-13.4,-5.1),(-12.9,-5.06),(-11.5,-5),(-11,-5.11),(-11.3,-5.3),(-9.9,-5.45),(-7.2,-5.4),(-7.2,-5.2),(-6.3,-5.25),(-6.2,-5.1),(-5.5,-5.15),(-4.5,-5.2),(-4,-5.4),(-3.9,-5.5),(-3.2,-5.5),
 (10.7,5.05),(11.2,4.98),(12.3,4.98),(6.1,4.95),(6.5,4.4),(6.1,4.4),(6.1,4.55),(7.6,4.2),(8,4.22),(8.6,4.2),(9.2,4.3),(11,4.28),(11.2,4.1),(10.7,4),(11.2,4),(11.2,3.8),(13.4,3.95),(14.2,4.1),(14.5,4.4),(18.9,4.16),(18,3.85),(7.7,3.5),(7.8,3.7),(7.9,3.9),(9.2,3.9),(9.2,3.7),(9.2,3.55),(7.5,3.45),
 (6.1,3.7),(5.7,3.8),(5.1,3.5),(4.8,3.3),(4.5,3.6),(4.3,4),(3.8,4.1),(5,5.1),(4.2,4.5),(4.3,4.05),(5.2,3.4),(4.9,2.85),(3.9,3.15),(3.5,3),(3,2.8),(3.3,2.3),(3.4,2.05),(2.5,2),(2,2.05),(6,2.15),(6.6,2.5),(7,2.05),(6.6,1.8),(5.9,1.55),(5.4,1.4),(4.9,1.5),(3.6,1.63),
 (8.6,2.55),(8.8,2.35),(9.6,2.05),(10.5,1.75),(10.1,1.5),(12.1,1.65),(11.6,2.45),(13.2,1.85),(12.7,1.65),(15.2,1.3),(13.4,0.8),(8.8,0.85),(8.8,0.65),(8.1,0.55),(7.2,0.45),(6.6,0.4),(6.1,0.5),(5.4,0.7),(4.9,0.3),(3.3,0.65),(2,0.55),(2.4,0.4),(3.7,0.1),(5.2,-0.05),
 (7.5,0.25),(7.8,0.1),(9.4,0.1),(11.7,0),(12.4,-0.05),(6,-0.05),(6,0),(2.9,0.15),(3.2,-0.5),(3.4,-0.3),(5.4,-0.8),(6,-0.85),(6.5,-1),(7,-1.05),(5.7,-1.15),(6.3,-1.4),(3.6,-0.8),(3.6,-1.05),(2.4,-1.2),(16.6,-0.95),(9.8,-1.25),(9.1,-1.3),(9,-1.4),(8.5,-1.5),(8.2,-1.5),
 (6.3,-1.58),(6.7,-1.42),(6.1,-1.55),(4.8,-1.55),(4.4,-1.65),(4.5,-1.8),(3.9,-1.8),(3.3,-1.8),(7,-1.9),(8,-1.85),(8.4,-1.85),(8.8,-1.75),(9.2,-1.75),(12,-1.7),(8.2,-2),(8.1,-2.1),(5.3,-2.18),(3.7,-2.3),(3.3,-2.35),(2.1,-2.3),(2.1,-2.45),(8.8,-2.45),(8.5,-2.6),(8.2,-2.65),
 (9.2,-2.67),(17.2,-2.18),(17.7,-2.58),(13.9,-2.45),(11.5,-2.73),(12,-2.88),(13,-3),(4.2,-2.75),(5.2,-2.77),(6.6,-2.92),(8,-2.97),(3.3,-3.03),(3.4,-3.2),(4,-3.42),(5.4,-3.4),(5.7,-3.4),(6.3,-3.38),(6.6,-3.5),(6.9,-3.65),(8.2,-3.5),(10,-3.42),(12.6,-3.4),(12.7,-3.45),(15.3,-3.42),(19.2,-3.42),
 (9.6,-3.7),(10.1,-3.75),(8.1,-3.95),(8.2,-4.05),(10,-4.05),(10.5,-4),(11,-3.9),(12.5,-3.85),(12.6,-3.95),(15.7,-3.9),(8.3,-4.2),(9,-4.1),(8.7,-4.3),(9.1,-4.4),(9.5,-4.5),(10,-4.2),(10,-4.4),(11,-4.15),(12.4,-4.15),(12.7,-4.3),(13,-4.37),(14.2,-4.3),(15.9,-4.3),(16.1,-4.1),
 (16.5,-4.4),(18.3,-4.15),(18.8,-4.3),(19.5,-4.4),(11,-4.65),(13,-4.8),(17.4,-4.7),(17.8,-4.68),(14.2,-5),(14.7,-5.05),(15.1,-5),(14.7,-5.18),(12.1,-5),(9,-5),(9.4,-5.2),(10,-5.35),(10.5,-5.25),(10.4,-5.4),(9.7,-5.45),(8.1,-5.4),(8,-5.55),(7.6,-5.55),
 (16,-5.3),(18.2,-5),(18.4,-5.25),(7,-4.95),(5.9,-4.65),(6.2,-4.85),(6.2,-5),(6.6,-5),(6.8,-5.1),(6.2,-5.3),(6.8,-5.4),(5.5,-5.25),(4.8,-5.35),(4.6,-5.45),(3.3,-5.5),(2.8,-5.55),(7.5,-4.55),(8.2,-4.8),(7.3,-4.3),(6.6,-4.2),(5.4,-4.4),(5.4,-4.05),(5.2,-3.9),(6.2,-4.1)]
f_core_y = [5.7,5.5,5.3,5.1,4.9,4.7,4.5,4.3,4.1,3.9,3.7,3.5,3.3,3.1,2.9,2.7,2.5,2.3,2.1,1.9,1.7,1.5,1.3,1.1,0.9,0.7,0.5,0.3,0.1,-0.1,-0.3,-0.5,-0.7,-0.9,-1.1,-1.3,-1.5,-1.7,-1.9,-2.1,-2.3,-2.5,-2.7,-2.9,-3.1,-3.3,-3.5,-3.7,-3.9,-4.1,-4.3,-4.5,-4.7,-4.9,-5.1,-5.3,-5.5,-5.65]
f_core_x = [[-2.3,-1.6,-0.8,-0.5,0.4],[-2.5,-1.8,-1,-0.4,0.1,1.9,3.1],[-2.6,-2,-1.4,-0.9,-0.2,0.4,1,2.5,3.4],[-4.9,-1.4,-1,-0.5,0,0.6,1.2,1.8,2.8],[-1.5,-1,-0.5,0,0.6,1.1,3.4],
 [-3.2,-1.7,-1.2,-0.7,-0.2,0.3,0.8],[-2.7,-1.9,-1.4,-0.9,-0.4,0.1,0.6,1.1],[-4.8,-2.5,-2,-1.5,-1,-0.5,0,0.5,1.4,2,2.5,3.4],[-4.9,-2.4,-1.9,-1.4,-0.9,-0.4,0.1,0.6,1.1,1.8,2.8],[-3.6,-2.5,-1.8,-1.3,-0.8,-0.3,0.2,0.7,1.4,2.2,4],
 [-4.4,-2,-1.5,-1,-0.5,0,0.5,1,2.8],[-3.4,-2.5,-1.7,-1.2,-0.7,-0.2,0.3,0.8,1.6],[-3.6,-2.7,-2,-1.5,-1,-0.5,0,0.5,1.2],[-2.4,-1.8,-1.2,-0.7,-0.2,0.3,0.9,1.6],[-4,-3,-2.1,-1.6,-1,-0.4,0.2,1.4,2.4],
 [-3.2,-2.5,-1.6,-1,-0.4,0.2,0.9,1.8],[-3.1,-1.3,-0.8,-0.2,0.4,1.1,2.1],[-1.4,-0.8,0.3,0.9,1.5,3.2],[-2,-0.4,0.2,0.9,1.5,2.3],[-2.4,-1.2,0,0.6,1.2,2.5],
 [-1,-0.4,0.4,1,2.4],[-1.4,-0.9,0.3,1,1.6,2.9],[-1.2,-0.5,0.1,0.6,1.2,1.8,2.6],[-0.6,0,0.4,1,2,3],[-0.2,0.4,0.9,1.5,2.2],[-1.6,-0.3,0.2,0.7,1.6,2.8],
 [-1.4,-0.3,0.3,0.8,2.2],[-1.7,-0.6,-0.1,0.4,1.6,2.4],[-0.3,0.2,0.8,1.4,2.3],[-1,-0.2,0.3,0.9,1.6,2.8],[-1.3,-0.6,-0.1,0.4,1,1.7],[-0.9,-0.4,0.1,0.6,1.2,2],[-0.7,-0.2,0.3,0.9,1.5,2.5],
 [-2.3,-1.5,-0.8,-0.2,0.4,1,1.8,3],[-2.7,-1.8,-1.2,-0.6,0,0.6,1.3,2.5],[-2.1,-1.4,-0.8,-0.2,0.4,1.1,1.8],[-3,-2.2,-1.4,-0.8,-0.2,0.4,1,1.8,2.8],[-3.3,-2.6,-1.7,-0.9,-0.3,0.3,1,2,3],
 [-1.7,-0.8,-0.2,0.4,1.1,2.2,3.4],[-1.4,-0.7,-0.1,0.5,1.3,2.5,3.1],[-1.1,-0.5,0.1,0.7,1.5,2.4],[-2.5,-1,-0.4,0.2,0.8,2.8],[-2.4,-1,-0.4,0.2,0.9,2.2],[-2.2,-0.9,-0.3,0.3,1.5,3.2],
 [-2.4,-1.4,-0.7,-0.1,0.5,1.2,2.4,3],[-2.6,-1.6,-1,-0.4,0.2,0.8,1.6,3],[-3,-2,-1.4,-0.8,-0.2,0.4,1,1.6,2.2,3.5,4.5],[-3.4,-2.2,-1.6,-1,-0.4,0.2,0.8,1.4,2,2.8,4],
 [-3.8,-2.8,-2.2,-1.6,-1,-0.4,0.2,0.8,1.4,2,3.2,4.4],[-4.6,-3.4,-2.5,-1.9,-1.3,-0.7,-0.1,0.5,1.1,1.7,2.3,3.4,4.2],[-4,-3.2,-2.6,-2,-1.4,-0.8,-0.2,0.4,1,1.6,2.2,3,3.8,4.6],
 [-4.9,-4,-3.3,-2.7,-2.1,-1.5,-0.9,-0.3,0.3,0.9,1.5,2.1,2.8,3.6,4.4],[-4.8,-3.8,-3.1,-2.5,-1.9,-1.3,-0.7,-0.1,0.5,1.1,1.7,2.4,3.2,4,5],[-5,-4.2,-3.6,-2.9,-2.3,-1.7,-1.1,-0.5,0.1,0.7,1.3,2,2.8,3.6,4.4],
 [-4.6,-3.9,-3.2,-2.6,-2,-1.4,-0.8,-0.2,0.4,1,1.6,2.3,3,3.8],[-5,-4.3,-3.6,-2.9,-2.3,-1.7,-1.1,-0.5,0.1,0.7,1.3,2,2.8,3.6,4.6],[-4.3,-3.6,-3,-2.4,-1.8,-1.2,-0.6,0,0.6,1.2,1.8,2.5,3.2,4],
 [-4.1,-3.4,-2.6,-1.6,-1,-0.4,0.2,0.8,1.5,2.2,2.8,3.3],[-1.4,-0.8,-0.2,0.4,1,2.8,3]]
f_fill_y = [5.4,5.2,5,4.8,4.6,4.4,4.2,4,3.8,3.6,3.4,3.2,3,2.8,2.4,2,1.6,1.2,0.8,0.4,0,-0.4,-0.8,-1.2,-1.6,-2,-2.4,-2.8,-3.2,-3.4,-3.6,-3.8,-4,-4.2,-4.4,-4.6,-4.8,-5,-5.2,-5.4]
f_fill_x = [[-1.3,-0.7,0.2,0.9,1.5],[-1.7,-1.1,-0.3,0.7,1.4],[-1.2,-0.7,-0.2,0.3,0.9],[-1.4,-0.8,-0.3,0.4,0.9],[-1.6,-0.9,-0.4,0.2,0.7],[-1.8,-1.2,-0.7,-0.1,0.4,1],[-2.2,-1.7,-1.2,-0.7,-0.2,0.3,0.8],[-2.1,-1.6,-1.1,-0.6,-0.1,0.4,0.9],[-1.6,-1,-0.6,-0.1,0.4,1],[-1.8,-1.3,-0.8,-0.3,0.2,0.7],
 [-2.3,-1.5,-1,-0.4,0.1,0.6],[-2,-1.3,-0.8,-0.3,0.2,0.8,1.6],[-1.7,-1.2,-0.7,-0.1,0.4],[-1.5,-0.9,0.5,1.1],[-1,0.1,0.7,1.2],[-1,0.4,1],[-0.9,0.1,0.7,1.2],[-0.2,0.3,0.8],[0,0.5,1.1],[-0.1,0.5,1],[-0.6,0,0.6],[-0.8,-0.3,0.2,0.7],[-1,-0.4,0.1,0.8],[-1.1,-0.5,0.2,0.8],[-1.6,-0.6,0,0.6],
 [-0.5,0.2,0.8],[-0.6,0,0.6],[-0.6,0,0.6],[-1.2,-0.5,0.1,0.7],[-0.7,-0.1,0.6],[-1.7,-1.1,-0.5,0.1,0.7,1.3],[-2,-1.4,-0.7,-0.1,0.5,1.1,1.7],[-2.5,-1.9,-1.3,-0.7,-0.1,0.5,1.1,1.8],[-2.9,-2.2,-1.6,-1,-0.4,0.2,0.8,1.4,2],[-3.6,-3,-2.2,-1.6,-1,-0.4,0.2,0.8,1.4,2,2.6],
 [-4.3,-3.5,-2.9,-2.3,-1.7,-1.1,-0.5,0.1,0.7,1.3,1.9,2.5,3.3,4.2],[-4.4,-3.6,-3,-2.2,-1.6,-1,-0.4,0.2,0.8,1.4,2,2.6,3.4],[-4.6,-3.9,-3.2,-2.6,-2,-1.4,-0.8,-0.2,0.4,1,1.6,2.2,3.1,4],[-4.7,-3.9,-3.2,-2.6,-2,-1.4,-0.8,-0.2,0.4,1,1.6,2.3,3.1,3.9,4.7],[-4.6,-3.9,-3.3,-2.7,-2.1,-1.5,-0.9,-0.3,0.3,0.9,1.5,2.1,2.9,3.7]]

panel_captions = ["(a)", "(b)", "(c)", "(d)", "(e)", "(f)"]

W, H = 1800, 1305
GREY = "#a8a8a8"
parula = LinearSegmentedColormap.from_list("parula", [
    (0.2422, 0.1504, 0.6603), (0.2810, 0.3228, 0.9579), (0.1786, 0.5289, 0.9682),
    (0.0689, 0.6948, 0.8394), (0.2161, 0.7843, 0.5923), (0.6720, 0.7793, 0.2227),
    (0.9970, 0.7100, 0.2199), (0.9769, 0.9839, 0.0805)])


def add_ax(left, top, right, bottom, **kw):
    return fig.add_axes([left / W, 1 - bottom / H, (right - left) / W, (bottom - top) / H], **kw)


def px_text(x, y, s, **kw):
    fig.text(x / W, 1 - y / H, s, ha="center", va="center", **kw)


def style_axis(ax, xlim, xticks, labelsize, ticklen, show_y):
    ax.set_xlim(xlim)
    ax.set_ylim(-6, 6)
    ax.set_xticks(xticks)
    ax.set_xticklabels([f"${v}$" for v in xticks])
    ax.set_yticks(yticks)
    ax.set_yticklabels([f"${v}$" for v in yticks] if show_y else [])
    ax.set_xlabel("")
    ax.set_ylabel("")
    ax.tick_params(direction="in", length=ticklen, width=0.8, color=GREY, labelsize=labelsize,
                   top=True, right=True, bottom=True, left=True, pad=10)
    for s in ax.spines.values():
        s.set_visible(True)
        s.set_color("black")
        s.set_linewidth(1.2)


def expand_rows(points, *blocks):
    rows = list(points)
    for ys, xs in blocks:
        for y, row in zip(ys, xs):
            rows += [(x, y) for x in row]
    return pd.DataFrame(rows, columns=["omega", "y"])


def segments(*parts):
    frames = [pd.DataFrame(p, columns=["x", "y"]).assign(seg=k) for k, p in enumerate(parts)]
    return pd.concat(frames, ignore_index=True)


fig = plt.figure(figsize=(W / 100, H / 100), dpi=100)

top_boxes = [(148, 52, 617, 479), (667, 52, 1135, 479), (1186, 52, 1654, 479)]
top_cells = [np.repeat(np.array(cells_a), row_repeat_a, axis=0), np.array(cells_b), np.array(cells_c)]
top_trajs = [segments(traj_a, traj_a_bundle), segments(traj_b, traj_b_lobes, traj_b_dense),
             segments(traj_c, traj_c_loops, traj_c_small)]
cax = add_ax(1696, 52, 1761, 479)

for i, box in enumerate(top_boxes):
    bg = add_ax(*box)
    has_bar = i == 2
    sns.heatmap(top_cells[i], ax=bg, cmap=parula, vmin=0.2, vmax=9.3, xticklabels=False, yticklabels=False,
                cbar=has_bar, cbar_ax=cax if has_bar else None, cbar_kws={"ticks": cbar_ticks} if has_bar else None)
    if has_bar:
        cb = bg.collections[0].colorbar
        cb.outline.set_visible(True)
        cb.outline.set_linewidth(1.2)
        cb.outline.set_edgecolor("black")
        cax.set_yticklabels([f"${v}$" for v in cbar_ticks])
        cax.tick_params(direction="in", length=11, width=0.8, color=GREY, labelsize=33, left=True, right=True, pad=10)
    ax = add_ax(*box, facecolor="none")
    sns.lineplot(data=top_trajs[i], x="x", y="y", units="seg", sort=False, estimator=None,
                 color="black", linewidth=0.5, ax=ax)
    style_axis(ax, (-13.5, 13.5), xticks_top, 33, 14, i == 0)
    px_text((box[0] + box[2]) / 2, 582, r"$x$ [cm]", fontsize=35)

bot_boxes = [(148, 707, 588, 1108), (732, 707, 1172, 1108), (1315, 707, 1755, 1108)]
bot_frames = [expand_rows(d_points, (d_core_y, d_core_x)),
              expand_rows(e_points, (e_core_y, e_core_x), (e_fill_y, e_fill_x)),
              expand_rows(f_points, (f_core_y, f_core_x), (f_fill_y, f_fill_x))]

for i, box in enumerate(bot_boxes):
    ax = add_ax(*box)
    sns.scatterplot(data=bot_frames[i], x="omega", y="y", color="black", s=30, linewidth=0, clip_on=False, ax=ax)
    style_axis(ax, (-20, 20), xticks_bot, 29, 12, i == 0)
    px_text((box[0] + box[2]) / 2, 1204, r"$\omega$ [rad/s]", fontsize=30.5)

px_text(24, 266, r"$y$ [cm]", fontsize=35, rotation=90)
px_text(34, 908, r"$y$ [cm]", fontsize=30.5, rotation=90)
fig.text(1675 / W, 1 - 24 / H, r"$\cdot 10^{-2}$", fontsize=42, ha="center", va="center")

for cap, cx, cy in zip(panel_captions, [293, 893, 1492, 301, 936, 1519], [661, 661, 661, 1289, 1289, 1289]):
    px_text(cx, cy, cap, fontsize=25, family="Liberation Serif")

fig.savefig("out.png", dpi=100)
